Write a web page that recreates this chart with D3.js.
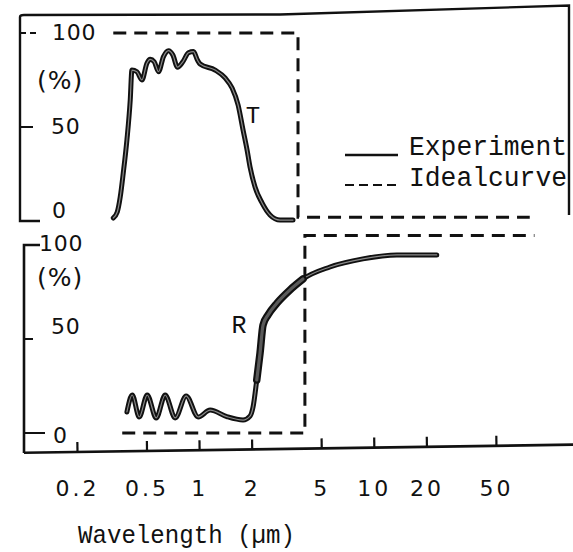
<!DOCTYPE html>
<html><head><meta charset="utf-8">
<script src="https://cdn.jsdelivr.net/npm/d3@7"></script>
<style>html,body{margin:0;padding:0;background:#fff;} svg{display:block}</style>
</head><body>
<svg id="chart" width="573" height="552"></svg>
<script>
// ---------- data ----------
const xTicks = [0.2, 0.5, 1, 2, 5, 10, 20, 50];
const xTickLabels = ["0.2", "0.5", "1", "2", "5", "10", "20", "50"];
const yTicks = [0, 50, 100];
const yTickLabels = ["0", "50", "100"];
const legendLabels = ["Experiment", "Idealcurve"];
const xTitle = "Wavelength (\u00b5m)";

// Transmittance T (%), experiment
const tWavelength = [0.3226, 0.340, 0.3536, 0.3679, 0.3861, 0.4034, 0.4124, 0.4406, 0.4706, 0.5026, 0.5248, 0.5533, 0.5854, 0.6252, 0.6677, 0.7075, 0.7516, 0.807, 0.8688, 0.9278, 0.978, 1.013, 1.234, 1.408, 1.544, 1.671, 1.784, 1.881, 1.956, 2.089, 2.291, 2.545, 2.904, 3.445];
const tPercent    = [1.6, 4.8, 12.8, 25.5, 43.1, 64.4, 80.3, 79.4, 75.0, 83.9, 86.0, 84.7, 79.4, 87.4, 90.6, 88.3, 81.8, 84.7, 89.5, 90.1, 85.6, 83.5, 80.3, 76.1, 70.7, 61.7, 48.4, 37.8, 28.7, 18.1, 9.6, 3.2, 0.5, 0.5];

// Reflectance R (%), experiment
const rWavelength = [0.3861, 0.4142, 0.4541, 0.5045, 0.568, 0.6393, 0.7294, 0.8427, 0.987, 1.156, 1.44, 1.784, 1.956, 2.035, 2.137, 2.232, 2.321, 2.48, 2.791, 3.311, 3.929, 5.605, 8.65, 13.53, 22.9];
const rPercent    = [11.2, 20.2, 8.5, 20.2, 8.0, 20.2, 8.0, 19.7, 8.5, 12.2, 8.7, 6.9, 9.0, 13.8, 28.2, 42.6, 57.4, 62.8, 69.1, 76.1, 81.9, 88.3, 92.6, 94.7, 94.7];

// Ideal curves (dashed)
const tIdealWavelength = [0.3226, 3.68, 3.68, 78];
const tIdealPercent    = [100, 100, 2, 2];
const rIdealWavelength = [0.363, 4.03, 4.03, 83];
const rIdealPercent    = [0, 0, 105, 105];

// ---------- drawing ----------
const svg = d3.select("#chart");
const monoFont = "'Liberation Mono', 'DejaVu Sans Mono', monospace";
const sansFont = "'DejaVu Sans', sans-serif";

const x  = d3.scaleLog().domain([0.2, 50]).range([77, 496]);
const yT = d3.scaleLinear().domain([0, 100]).range([221, 33]);
const yR = d3.scaleLinear().domain([0, 100]).range([433, 245]);

const tData = d3.zip(tWavelength, tPercent);
const rData = d3.zip(rWavelength, rPercent);
const tIdeal = d3.zip(tIdealWavelength, tIdealPercent);
const rIdeal = d3.zip(rIdealWavelength, rIdealPercent);

const lineT = d3.line().x(d => x(d[0])).y(d => yT(d[1])).curve(d3.curveMonotoneX);
const lineR = d3.line().x(d => x(d[0])).y(d => yR(d[1])).curve(d3.curveMonotoneX);
const lineTlin = d3.line().x(d => x(d[0])).y(d => yT(d[1]));
const lineRlin = d3.line().x(d => x(d[0])).y(d => yR(d[1]));

// frames
svg.append("path")
  .attr("d", "M40,221 H20 V17 Q20,15 24,15 L280,14.5 L569,5.5 V215")
  .attr("fill", "none").attr("stroke", "#111").attr("stroke-width", 2.4);
svg.append("path")
  .attr("d", `M40,${yR(100)} H24 V453`)
  .attr("fill", "none").attr("stroke", "#111").attr("stroke-width", 2.6);

// y ticks
svg.append("line").attr("x1", 20).attr("x2", 37).attr("y1", yT(100)).attr("y2", yT(100))
  .attr("stroke", "#111").attr("stroke-width", 2).attr("stroke-dasharray", "6,4");
svg.append("line").attr("x1", 20).attr("x2", 33).attr("y1", yT(50)).attr("y2", yT(50))
  .attr("stroke", "#111").attr("stroke-width", 2);
svg.append("line").attr("x1", 24).attr("x2", 33).attr("y1", yR(50)).attr("y2", yR(50))
  .attr("stroke", "#111").attr("stroke-width", 2);
svg.append("line").attr("x1", 24).attr("x2", 45).attr("y1", yR(0)).attr("y2", yR(0))
  .attr("stroke", "#111").attr("stroke-width", 2);

// y tick labels
const topLabelPos = {0: [52, yT(0) - 11], 50: [51, yT(50) - 1], 100: [52, yT(100) - 0.5]};
const botLabelPos = {0: [53, yR(0) + 2], 50: [51, yR(50) - 13], 100: [39, yR(100) - 2]};
yTicks.forEach((v, i) => {
  [topLabelPos, botLabelPos].forEach(pos => {
    svg.append("text").attr("x", pos[v][0]).attr("y", pos[v][1])
      .attr("dominant-baseline", "central")
      .attr("font-family", sansFont).attr("font-size", 22)
      .attr("letter-spacing", 0.8).attr("fill", "#111")
      .text(yTickLabels[i]);
  });
});
[[37, 80], [37, 277]].forEach(p => {
  svg.append("text").attr("x", p[0]).attr("y", p[1])
    .attr("dominant-baseline", "central")
    .attr("font-family", sansFont).attr("font-size", 25)
    .attr("letter-spacing", 1).attr("fill", "#111").text("(%)");
});

// ideal curves
function dashed(path) {
  return svg.append("path").attr("d", path).attr("fill", "none")
    .attr("stroke", "#111").attr("stroke-width", 3)
    .attr("stroke-dasharray", "13,8");
}
dashed(lineTlin(tIdeal));
dashed(lineRlin(rIdeal));

// experimental curves (thick black with grey core)
function expCurve(path, w, core, coreW) {
  svg.append("path").attr("d", path).attr("fill", "none")
    .attr("stroke", "#111").attr("stroke-width", w)
    .attr("stroke-linejoin", "round").attr("stroke-linecap", "round");
  svg.append("path").attr("d", path).attr("fill", "none")
    .attr("stroke", core).attr("stroke-width", coreW)
    .attr("stroke-linejoin", "round").attr("stroke-linecap", "round");
}
expCurve(lineT(tData), 5, "#8a8a8a", 1.2);
expCurve(lineR(rData), 5, "#8a8a8a", 1.2);
// broadened band on the R rise
const band = rData.filter(d => d[0] >= 2.1 && d[0] <= 3.95);
expCurve(lineR(band), 7.5, "#5a5a5a", 3.2);

// curve labels
svg.append("text").attr("x", 253).attr("y", 123).attr("text-anchor", "middle")
  .attr("font-family", monoFont).attr("font-size", 24).attr("fill", "#111").text("T");
svg.append("text").attr("x", 239).attr("y", 333).attr("text-anchor", "middle")
  .attr("font-family", monoFont).attr("font-size", 25).attr("fill", "#111").text("R");

// legend
svg.append("line").attr("x1", 345).attr("x2", 398).attr("y1", 155).attr("y2", 155)
  .attr("stroke", "#111").attr("stroke-width", 2.4);
svg.append("line").attr("x1", 345).attr("x2", 398).attr("y1", 185).attr("y2", 185)
  .attr("stroke", "#111").attr("stroke-width", 2.2).attr("stroke-dasharray", "9,5");
legendLabels.forEach((t, i) => {
  svg.append("text").attr("x", 409).attr("y", 155 + i * 31)
    .attr("font-family", monoFont).attr("font-size", 27)
    .attr("textLength", 158).attr("lengthAdjust", "spacingAndGlyphs")
    .attr("fill", "#111").text(t);
});

// x axis: line + ticks (slightly tilted, as in the scan)
const axG = svg.append("g").attr("transform", "translate(0,452) rotate(-0.85,77,0)");
axG.append("line").attr("x1", 24).attr("x2", 580).attr("y1", 0).attr("y2", 0)
  .attr("stroke", "#111").attr("stroke-width", 2.6);
axG.call(d3.axisBottom(x).tickValues(xTicks).tickSizeInner(-10).tickSizeOuter(0).tickFormat(""))
  .call(g => g.select(".domain").remove())
  .call(g => g.selectAll(".tick line").attr("stroke", "#111").attr("stroke-width", 2.2));

// x tick labels
const lblG = svg.append("g").attr("transform", "translate(0,452)");
lblG.call(d3.axisBottom(x).tickValues(xTicks).tickSize(0).tickPadding(28)
    .tickFormat((d, i) => xTickLabels[i]))
  .call(g => g.select(".domain").remove())
  .call(g => g.selectAll(".tick text")
    .attr("font-family", sansFont).attr("font-size", 22)
    .attr("letter-spacing", 3).attr("fill", "#111"));

// x title
svg.append("text").attr("x", 78).attr("y", 543)
  .attr("font-family", monoFont).attr("font-size", 25)
  .attr("textLength", 217).attr("lengthAdjust", "spacingAndGlyphs")
  .attr("fill", "#111").text(xTitle);
</script>
</body></html>
